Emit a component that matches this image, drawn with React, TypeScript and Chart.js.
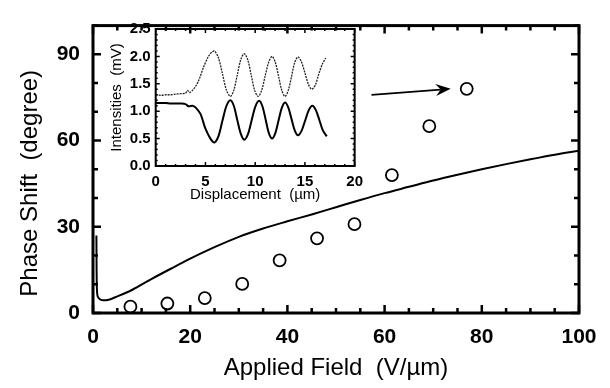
import React, { useEffect, useRef } from 'react';
import { Chart, registerables } from 'chart.js';

Chart.register(...registerables);

const FONT = '"Liberation Sans", Arial, Helvetica, sans-serif';

// Main chart: measured phase shift (open circles)
const FIELD = [7.7, 15.3, 23.0, 30.7, 38.4, 46.1, 53.8, 61.5, 69.2, 76.9];
const PHASE = [2.2, 3.3, 5.2, 10.1, 18.3, 26.0, 30.9, 48.0, 65.0, 78.0];

// Main chart: calculated curve (solid line)
const CURVE_X = [0.7, 0.74, 0.85, 1.05, 1.5, 2.2, 3.0, 5.0, 8, 12, 16, 20, 25, 30, 35, 40, 45, 50, 55, 60, 65, 70, 75, 80, 85, 90, 95, 100];
const CURVE_Y = [27, 15, 7, 5.5, 4.7, 4.4, 4.5, 5.8, 8.0, 11.8, 15.4, 18.9, 22.9, 26.5, 29.4, 31.9, 34.3, 36.8, 39.3, 41.7, 43.9, 46.1, 48.1, 50.0, 51.8, 53.5, 55.1, 56.5];

// Arrow from inset to the last point (data units)
const ARROW_FROM = [57.3, 75.9];
const ARROW_TO = [73.6, 78.0];

const MAIN_X_LABELS = [0, 20, 40, 60, 80, 100];
const MAIN_Y_LABELS = [0, 30, 60, 90];

// Inset: intensities vs displacement (upper, dotted trace)
const TOP_X = [0, 0.5, 1.0, 1.5, 2.0, 2.5, 3.0, 3.2, 3.4, 3.8, 4.3, 4.8, 5.3, 5.6, 5.9, 6.3, 6.7, 7.1, 7.5, 7.85, 8.2, 8.55, 8.9, 9.25, 9.6, 9.95, 10.3, 10.65, 11.0, 11.35, 11.7, 12.025, 12.35, 12.675, 13.0, 13.325, 13.65, 13.975, 14.3, 14.65, 15.0, 15.35, 15.7, 16.05, 16.4, 16.75, 17.1];
const TOP_Y = [1.30, 1.29, 1.30, 1.30, 1.31, 1.32, 1.33, 1.38, 1.34, 1.40, 1.55, 1.80, 2.00, 2.07, 2.10, 1.98, 1.69, 1.39, 1.27, 1.38, 1.66, 1.94, 2.05, 1.94, 1.66, 1.38, 1.27, 1.38, 1.64, 1.89, 2.00, 1.89, 1.64, 1.38, 1.27, 1.38, 1.63, 1.89, 1.99, 1.90, 1.70, 1.49, 1.40, 1.48, 1.68, 1.86, 1.97];
// Inset: lower, solid trace
const BOT_X = [0, 0.5, 1.0, 1.5, 2.0, 2.5, 3.0, 3.3, 3.7, 4.0, 4.5, 5.0, 5.5, 5.9, 6.3, 6.7, 7.1, 7.5, 7.85, 8.2, 8.55, 8.9, 9.275, 9.65, 10.025, 10.4, 10.725, 11.05, 11.375, 11.7, 12.025, 12.35, 12.675, 13.0, 13.325, 13.65, 13.975, 14.3, 14.66, 15.025, 15.39, 15.75, 16.1, 16.45, 16.8, 17.2];
const BOT_Y = [1.15, 1.15, 1.15, 1.14, 1.14, 1.14, 1.13, 1.09, 1.10, 1.07, 0.95, 0.68, 0.50, 0.43, 0.54, 0.82, 1.09, 1.20, 1.10, 0.84, 0.59, 0.48, 0.58, 0.84, 1.09, 1.19, 1.09, 0.85, 0.60, 0.50, 0.60, 0.83, 1.06, 1.16, 1.07, 0.86, 0.65, 0.56, 0.64, 0.83, 1.02, 1.10, 1.02, 0.84, 0.65, 0.54];

const INSET_X_LABELS = [0, 5, 10, 15, 20];
const INSET_Y_LABELS = [0, 0.5, 1.0, 1.5, 2.0, 2.5];

const toPoints = (xs: number[], ys: number[]) => xs.map((x, i) => ({ x, y: ys[i] }));
const inList = (list: number[], v: number) => list.some((l) => Math.abs(l - v) < 1e-6);

type FrameOpts = {
  id: string;
  frameWidth: number;
  tickWidth: number;
  major: number;
  minor: number;
  xMajor: number[];
  yMajor: number[];
  xTitle: string;
  yTitle: string;
  titleFont: string;
  xTitleOffset: number;
  yTitleX: number;
  yTitleShift: number;
  arrow?: boolean;
};

function framePlugin(o: FrameOpts) {
  return {
    id: o.id,
    afterDraw(chart: any) {
      const { ctx, chartArea: a, scales } = chart;
      const sx = scales.x;
      const sy = scales.y;
      ctx.save();
      ctx.strokeStyle = '#000';
      ctx.fillStyle = '#000';
      ctx.lineWidth = o.frameWidth;
      ctx.strokeRect(a.left, a.top, a.right - a.left, a.bottom - a.top);
      ctx.lineWidth = o.tickWidth;
      ctx.beginPath();
      sx.ticks.forEach((t: any) => {
        const px = sx.getPixelForValue(t.value);
        const len = inList(o.xMajor, t.value) ? o.major : o.minor;
        ctx.moveTo(px, a.bottom);
        ctx.lineTo(px, a.bottom - len);
        ctx.moveTo(px, a.top);
        ctx.lineTo(px, a.top + len);
      });
      sy.ticks.forEach((t: any) => {
        const py = sy.getPixelForValue(t.value);
        const len = inList(o.yMajor, t.value) ? o.major : o.minor;
        ctx.moveTo(a.left, py);
        ctx.lineTo(a.left + len, py);
        ctx.moveTo(a.right, py);
        ctx.lineTo(a.right - len, py);
      });
      ctx.stroke();

      // titles
      ctx.font = o.titleFont;
      ctx.textAlign = 'center';
      ctx.textBaseline = 'middle';
      ctx.fillText(o.xTitle, (a.left + a.right) / 2, a.bottom + o.xTitleOffset);
      ctx.save();
      ctx.translate(o.yTitleX, (a.top + a.bottom) / 2 + o.yTitleShift);
      ctx.rotate(-Math.PI / 2);
      ctx.fillText(o.yTitle, 0, 0);
      ctx.restore();

      if (o.arrow) {
        const x0 = sx.getPixelForValue(ARROW_FROM[0]);
        const y0 = sy.getPixelForValue(ARROW_FROM[1]);
        const x1 = sx.getPixelForValue(ARROW_TO[0]);
        const y1 = sy.getPixelForValue(ARROW_TO[1]);
        const ang = Math.atan2(y1 - y0, x1 - x0);
        const L = 15;
        const W = 6;
        const N = 10;
        ctx.lineWidth = 1.6;
        ctx.beginPath();
        ctx.moveTo(x0, y0);
        ctx.lineTo(x1 - Math.cos(ang) * N, y1 - Math.sin(ang) * N);
        ctx.stroke();
        const c = Math.cos(ang);
        const s = Math.sin(ang);
        const pt = (dx: number, dy: number) => [x1 + dx * c - dy * s, y1 + dx * s + dy * c];
        const p1 = pt(-L, -W);
        const p2 = pt(-N, 0);
        const p3 = pt(-L, W);
        ctx.beginPath();
        ctx.moveTo(x1, y1);
        ctx.lineTo(p1[0], p1[1]);
        ctx.lineTo(p2[0], p2[1]);
        ctx.lineTo(p3[0], p3[1]);
        ctx.closePath();
        ctx.fill();
      }
      ctx.restore();
    },
  };
}

export default function App() {
  const mainRef = useRef<HTMLCanvasElement>(null);
  const insetRef = useRef<HTMLCanvasElement>(null);

  useEffect(() => {
    Chart.defaults.font.family = FONT;
    const main = new Chart(mainRef.current as HTMLCanvasElement, {
      type: 'scatter',
      data: {
        datasets: [
          {
            data: toPoints(CURVE_X, CURVE_Y),
            showLine: true,
            borderColor: '#000',
            borderWidth: 2,
            pointRadius: 0,
            cubicInterpolationMode: 'monotone',
          } as any,
          {
            data: toPoints(FIELD, PHASE),
            pointRadius: 6,
            pointBorderWidth: 1.8,
            pointBorderColor: '#000',
            pointBackgroundColor: '#fff',
            clip: false,
          } as any,
        ],
      },
      options: {
        responsive: false,
        animation: false,
        layout: { padding: { top: 8, right: 31, left: 0, bottom: 0 } },
        plugins: { legend: { display: false }, tooltip: { enabled: false } },
        scales: {
          x: {
            type: 'linear',
            min: 0,
            max: 100,
            grid: { display: false, drawTicks: false },
            border: { display: false },
            ticks: {
              stepSize: 5,
              autoSkip: false,
              maxRotation: 0,
              padding: 12,
              color: '#000',
              font: { size: 21, weight: 'bold' },
              callback: (v: any) => (inList(MAIN_X_LABELS, v) ? String(v) : ''),
            },
            afterFit: (s: any) => {
              s.height = 75;
            },
          },
          y: {
            type: 'linear',
            min: 0,
            max: 100,
            grid: { display: false, drawTicks: false },
            border: { display: false },
            ticks: {
              stepSize: 10,
              autoSkip: false,
              padding: 13,
              color: '#000',
              font: { size: 21, weight: 'bold' },
              callback: (v: any) => (inList(MAIN_Y_LABELS, v) ? String(v) : ''),
            },
            afterFit: (s: any) => {
              s.width = 93;
            },
          },
        },
      } as any,
      plugins: [
        framePlugin({
          id: 'mainFrame',
          frameWidth: 3,
          tickWidth: 2.5,
          major: 8,
          minor: 5,
          xMajor: MAIN_X_LABELS,
          yMajor: MAIN_Y_LABELS,
          xTitle: 'Applied Field  (V/µm)',
          yTitle: 'Phase Shift  (degree)',
          titleFont: `24px ${FONT}`,
          xTitleOffset: 55,
          yTitleX: 30,
          yTitleShift: 14,
          arrow: true,
        }),
      ],
    });

    const inset = new Chart(insetRef.current as HTMLCanvasElement, {
      type: 'scatter',
      data: {
        datasets: [
          {
            data: toPoints(TOP_X, TOP_Y),
            showLine: true,
            borderColor: '#222',
            borderWidth: 1.3,
            borderDash: [2, 1],
            pointRadius: 0,
            tension: 0.3,
          } as any,
          {
            data: toPoints(BOT_X, BOT_Y),
            showLine: true,
            borderColor: '#000',
            borderWidth: 2,
            pointRadius: 0,
            tension: 0.3,
          } as any,
        ],
      },
      options: {
        responsive: false,
        animation: false,
        layout: { padding: { top: 13.5, right: 12.5, left: 0, bottom: 0 } },
        plugins: { legend: { display: false }, tooltip: { enabled: false } },
        scales: {
          x: {
            type: 'linear',
            min: 0,
            max: 20,
            grid: { display: false, drawTicks: false },
            border: { display: false },
            ticks: {
              stepSize: 1,
              autoSkip: false,
              maxRotation: 0,
              padding: 7,
              color: '#000',
              font: { size: 15, weight: 'bold' },
              callback: (v: any) => (inList(INSET_X_LABELS, v) ? String(v) : ''),
            },
            afterFit: (s: any) => {
              s.height = 49;
            },
          },
          y: {
            type: 'linear',
            min: 0,
            max: 2.5,
            grid: { display: false, drawTicks: false },
            border: { display: false },
            ticks: {
              stepSize: 0.1,
              autoSkip: false,
              padding: 5,
              color: '#000',
              font: { size: 15, weight: 'bold' },
              callback: (v: any) => (inList(INSET_Y_LABELS, v) ? Number(v).toFixed(1) : ''),
            },
            afterFit: (s: any) => {
              s.width = 50.7;
            },
          },
        },
      } as any,
      plugins: [
        framePlugin({
          id: 'insetFrame',
          frameWidth: 2,
          tickWidth: 1.5,
          major: 4,
          minor: 2,
          xMajor: INSET_X_LABELS,
          yMajor: INSET_Y_LABELS,
          xTitle: 'Displacement  (µm)',
          yTitle: 'Intensities  (mV)',
          titleFont: `15px ${FONT}`,
          xTitleOffset: 29,
          yTitleX: 12,
          yTitleShift: 0,
        }),
      ],
    });

    return () => {
      main.destroy();
      inset.destroy();
    };
  }, []);

  return (
    <div style={{ position: 'absolute', left: 0, top: 0, width: 610, height: 388, background: '#fff' }}>
      <canvas ref={mainRef} width={610} height={388} style={{ position: 'absolute', left: 0, top: 0 }} />
      <canvas ref={insetRef} width={265} height={200} style={{ position: 'absolute', left: 105, top: 15 }} />
    </div>
  );
}
